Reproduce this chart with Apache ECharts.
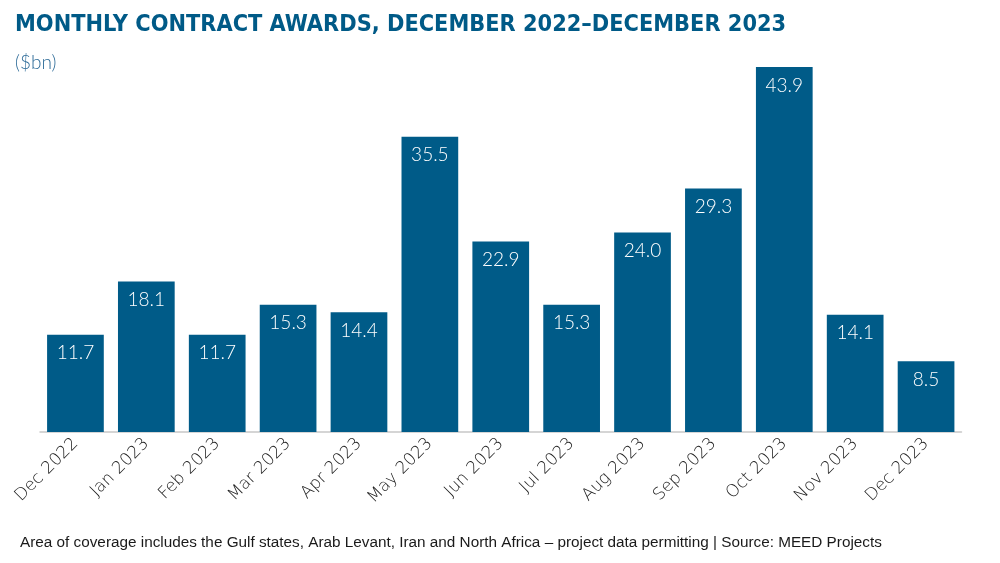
<!DOCTYPE html>
<html><head><meta charset="utf-8">
<script src="https://cdn.jsdelivr.net/npm/echarts@6/dist/echarts.min.js"></script>
<style>html,body{margin:0;padding:0;background:#fff}#c{width:1000px;height:563px}</style>
</head><body><div id="c"></div>
<script>
const categories = ['Dec 2022','Jan 2023','Feb 2023','Mar 2023','Apr 2023','May 2023','Jun 2023','Jul 2023','Aug 2023','Sep 2023','Oct 2023','Nov 2023','Dec 2023'];
const awards = [11.7,18.1,11.7,15.3,14.4,35.5,22.9,15.3,24.0,29.3,43.9,14.1,8.5];
const titleText = 'MONTHLY CONTRACT AWARDS, DECEMBER 2022\u2013DECEMBER 2023';
const unitText = '($bn)';
const footerText = 'Area of coverage includes the Gulf states, Arab Levant, Iran and North Africa \u2013 project data permitting | Source: MEED Projects';

const chart = echarts.init(document.getElementById('c'));
chart.setOption({
  animation:false,
  title:[
    {text:titleText,left:10,top:8,textStyle:{fontFamily:'DejaVu Sans Condensed',fontWeight:'bold',fontSize:23.3,color:'#005a87'}},
    {text:unitText,left:10,top:48,textStyle:{fontFamily:'Lato',fontWeight:300,fontSize:19,color:'#2d6b98'}},
    {text:footerText,left:15,top:530,textStyle:{fontFamily:'Liberation Sans',fontWeight:'normal',fontSize:15.3,color:'#1a1a1a'}}
  ],
  grid:{left:40,right:38.5,top:16.3,height:415.7,containLabel:false},
  xAxis:{type:'category',data:categories,
    axisLine:{lineStyle:{color:'#c8c8c8',width:1.5}},axisTick:{show:false},
    axisLabel:{rotate:45,fontFamily:'DejaVu Sans',fontWeight:200,fontSize:17,color:'#222',margin:9,interval:0}},
  yAxis:{type:'value',min:0,max:50,show:false,splitLine:{show:false}},
  series:[{type:'bar',data:awards,barCategoryGap:'20%',
    itemStyle:{color:'#005b88'},
    label:{show:true,position:'insideTop',distance:9,color:'#fff',fontFamily:'Lato',fontWeight:300,fontSize:19,
      formatter:p=>p.value.toFixed(1)}}]
});
</script></body></html>
